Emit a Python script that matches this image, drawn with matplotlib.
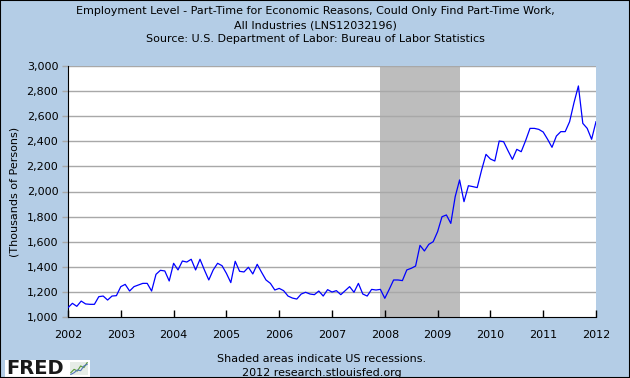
import matplotlib

matplotlib.use("Agg")
import matplotlib.pyplot as plt  # noqa: E402
from matplotlib.patches import Rectangle  # noqa: E402

BG = "#b4cde6"
LINE = "#0000ff"
SHADE = "#bdbdbd"
GRID = "#a8a8a8"

# monthly values, Jan 2002 .. Jan 2012 (thousands of persons)
values_2002 = [1074, 1109, 1085, 1127, 1104, 1101, 1101, 1162, 1167, 1135, 1167, 1170]
values_2003 = [1242, 1260, 1207, 1242, 1255, 1268, 1268, 1207, 1340, 1372, 1367, 1287]
values_2004 = [1428, 1375, 1446, 1438, 1460, 1375, 1460, 1375, 1295, 1375, 1428, 1409]
values_2005 = [1348, 1274, 1444, 1364, 1359, 1396, 1343, 1420, 1356, 1295, 1268, 1215]
values_2006 = [1228, 1210, 1167, 1151, 1143, 1183, 1197, 1183, 1178, 1207, 1167, 1218]
values_2007 = [1199, 1210, 1178, 1210, 1242, 1197, 1268, 1183, 1167, 1220, 1215, 1220]
values_2008 = [1149, 1220, 1295, 1295, 1290, 1375, 1388, 1406, 1571, 1526, 1579, 1600]
values_2009 = [1680, 1799, 1813, 1746, 1959, 2092, 1919, 2046, 2039, 2031, 2171, 2296]
values_2010 = [2259, 2243, 2402, 2397, 2325, 2256, 2336, 2317, 2405, 2503, 2503, 2495]
values_2011 = [2474, 2416, 2352, 2442, 2477, 2477, 2556, 2708, 2841, 2543, 2503, 2416]
values_2012 = [2556]

values = (values_2002 + values_2003 + values_2004 + values_2005 + values_2006
          + values_2007 + values_2008 + values_2009 + values_2010 + values_2011
          + values_2012)
years = [2002 + i / 12 for i in range(len(values))]

recession_start = 2007 + 11 / 12
recession_end = 2009 + 5 / 12

x_ticks = list(range(2002, 2013))
y_ticks = list(range(1000, 3001, 200))

fig = plt.figure(figsize=(6.3, 3.78), dpi=100)
fig.patch.set_facecolor(BG)
fig.patches.append(Rectangle((0, 0), 1, 1, transform=fig.transFigure, fill=False,
                             edgecolor="black", lw=1.5, zorder=10))

ax = fig.add_axes([68 / 630, 61 / 378, 528 / 630, 251 / 378])
ax.set_facecolor("white")
ax.axvspan(recession_start, recession_end, color=SHADE, lw=0, zorder=1)
for v in y_ticks[1:]:
    ax.axhline(v, color=GRID, lw=1, zorder=2)
ax.plot(years, values, color=LINE, lw=0.9, zorder=3)

ax.set_xlim(2002, 2012)
ax.set_ylim(1000, 3000)
ax.set_xticks(x_ticks)
ax.set_xticklabels([str(y) for y in x_ticks], fontsize=8)
ax.set_yticks(y_ticks)
ax.set_yticklabels([f"{v:,}" for v in y_ticks], fontsize=8)
ax.tick_params(axis="x", direction="in", length=5, width=1, pad=9)
ax.tick_params(axis="y", direction="out", length=4, width=1, pad=3, color=GRID)
for s in ("top", "right"):
    ax.spines[s].set_visible(False)
ax.spines["left"].set_color("black")
ax.spines["bottom"].set_color("black")
ax.set_ylabel("(Thousands of Persons)", fontsize=8, labelpad=5)

fig.text(0.5, 1 - 11 / 378,
         "Employment Level - Part-Time for Economic Reasons, Could Only Find Part-Time Work,",
         ha="center", va="center", fontsize=8)
fig.text(0.5, 1 - 25 / 378, "All Industries (LNS12032196)",
         ha="center", va="center", fontsize=8)
fig.text(0.5, 1 - 39 / 378, "Source: U.S. Department of Labor: Bureau of Labor Statistics",
         ha="center", va="center", fontsize=8)

fig.text(322 / 630, 1 - 359 / 378, "Shaded areas indicate US recessions.",
         ha="center", va="center", fontsize=8)
fig.text(322 / 630, 1 - 373 / 378, "2012 research.stlouisfed.org",
         ha="center", va="center", fontsize=8)

# FRED logo block
fig.patches.append(Rectangle((5 / 630, 1 / 378), 85 / 630, 17 / 378,
                             transform=fig.transFigure, facecolor="white",
                             edgecolor="none", zorder=5))
fig.text(6 / 630, 9 / 378, "FRED", ha="left", va="center", fontsize=14,
         fontweight="bold", color="#1a1a1a", zorder=6)
icon = fig.add_axes([70 / 630, 3 / 378, 18 / 630, 13 / 378], zorder=7)
icon.plot([0, 1, 2, 3, 4, 5], [1, 2, 1.5, 3, 2.5, 4], color="#5a9a3a", lw=0.8)
icon.plot([0, 1, 2, 3, 4, 5], [0.5, 1, 1.8, 1.6, 3, 3.5], color="#5577bb", lw=0.8)
icon.set_facecolor("#e6ece6")
icon.set_xticks([])
icon.set_yticks([])
for s in icon.spines.values():
    s.set_visible(False)

fig.savefig("out.png", facecolor=BG)
plt.close(fig)
